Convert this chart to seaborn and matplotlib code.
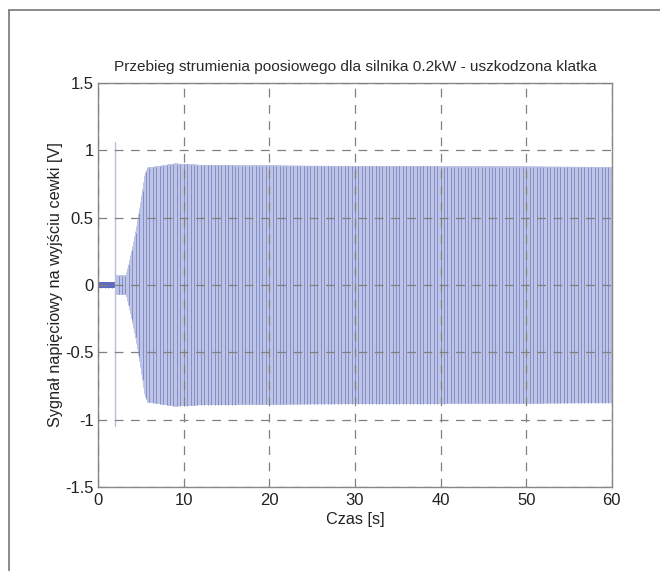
import numpy as np
import pandas as pd
import seaborn as sns
import matplotlib
matplotlib.use("Agg")
import matplotlib.pyplot as plt
from matplotlib.lines import Line2D

# Envelope of the axial-flux voltage (amplitude in V at given times in s)
env_t = [0.0, 2.0, 2.05, 3.3, 3.6, 4.0, 4.5, 5.0, 5.5, 5.8, 7.0, 9.0, 12.0, 20.0, 40.0, 60.0]
env_a = [0.02, 0.02, 0.07, 0.07, 0.15, 0.26, 0.42, 0.61, 0.82, 0.87, 0.88, 0.90, 0.89, 0.885, 0.88, 0.875]
# Switching transient at motor start
spike_t = [2.0, 2.0]
spike_v = [1.06, -1.05]
supply_hz = 50.0
fs = 2000.0
periods_per_stripe = 20

x_ticks = [0, 10, 20, 30, 40, 50, 60]
y_ticks = [-1.5, -1, -0.5, 0, 0.5, 1, 1.5]
y_tick_labels = ["-1.5", "-1", "-0.5", "0", "0.5", "1", "1.5"]

title = "Przebieg strumienia poosiowego dla silnika 0.2kW - uszkodzona klatka"
xlabel = "Czas [s]"
ylabel = "Sygnał napięciowy na wyjściu cewki [V]"

t = np.arange(0, 60.0, 1.0 / fs)
amp = np.interp(t, env_t, env_a)
sig = amp * np.sin(2 * np.pi * supply_hz * t)
df = pd.DataFrame({"t": t, "v": sig})

# Positive peaks of every n-th cycle, drawn as darker vertical strokes
peak_t = np.arange(0.25 / supply_hz, 60.0, periods_per_stripe / supply_hz)
peak_a = np.interp(peak_t, env_t, env_a)

sns.set_theme(style="white")
plt.rcParams["font.family"] = ["Liberation Sans", "DejaVu Sans"]

fig = plt.figure(figsize=(6.6, 5.71), dpi=100)
ax = fig.add_axes([0.1485, 0.1471, 0.927 - 0.1485, 0.8546 - 0.1471])

sns.lineplot(data=df, x="t", y="v", estimator=None, sort=False,
             color="#bec4e3", linewidth=0.3, ax=ax)
ax.vlines(peak_t, -peak_a, peak_a, color="#848ecb", linewidth=0.7)
ax.plot(t[t < 2.0], sig[t < 2.0], color="#5f6cbd", linewidth=0.4)
ax.plot(spike_t, spike_v, color="#b8bede", linewidth=1.0)

ax.set_xlim(0, 60)
ax.set_ylim(-1.5, 1.5)
ax.set_xticks(x_ticks)
ax.set_yticks(y_ticks)
ax.set_yticklabels(y_tick_labels)
ax.tick_params(axis="both", labelsize=12, colors="#222222", direction="in",
               length=0, pad=4)
ax.tick_params(axis="y", pad=3)
for s in ax.spines.values():
    s.set_color("#888888")
    s.set_linewidth(1.0)

ax.set_axisbelow(False)
ax.grid(True, color="#808080", linestyle=(0, (7, 6)), linewidth=0.9)

ax.set_title(title, fontsize=11.1, color="#2a2a2a", pad=9)
ax.set_xlabel(xlabel, fontsize=11.7, color="#222222", labelpad=3)
ax.set_ylabel(ylabel, fontsize=11.7, color="#222222", labelpad=2)

# Outer frame around the figure
fig.add_artist(Line2D([9 / 660, 9 / 660], [0, 1 - 10 / 571], color="#777777", linewidth=1.2))
fig.add_artist(Line2D([9 / 660, 1], [1 - 10 / 571, 1 - 10 / 571], color="#777777", linewidth=1.2))

fig.savefig("out.png", dpi=100, facecolor="white")
